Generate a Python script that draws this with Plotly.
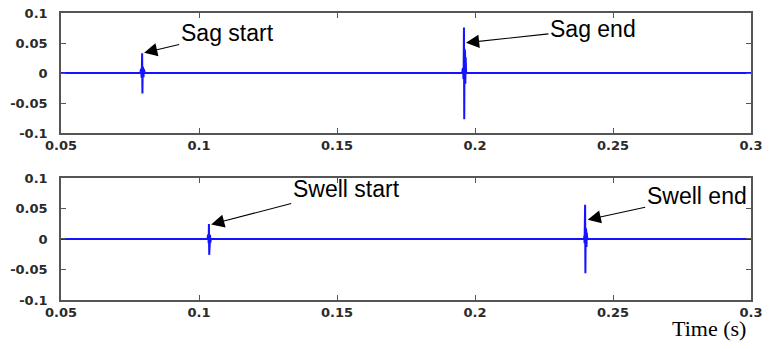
import plotly.graph_objects as go
from plotly.subplots import make_subplots

# Detail coefficients around the sag disturbance (time in s)
sag_t = [0.05,
         0.0788, 0.0789, 0.0790, 0.0791, 0.0792, 0.0793, 0.0794, 0.0795, 0.0796, 0.0797,
         0.0798, 0.0799, 0.0800, 0.0801, 0.0802, 0.0803,
         0.1954, 0.1955, 0.1956, 0.1957, 0.1958, 0.1959, 0.1960, 0.1961, 0.1962, 0.1963,
         0.1964, 0.1965, 0.1966, 0.1967, 0.1968,
         0.3]
sag_v = [0.0,
         0.0, 0.005, -0.006, 0.007, -0.008, 0.006, 0.033, -0.034, 0.010, -0.009,
         0.008, -0.007, 0.006, -0.005, 0.003, 0.0,
         0.0, 0.006, -0.007, 0.008, -0.010, 0.012, 0.076, -0.077, 0.040, -0.023,
         0.035, -0.018, 0.026, -0.008, 0.0,
         0.3 * 0]

# Detail coefficients around the swell disturbance (time in s)
swell_t = [0.05,
           0.1031, 0.1032, 0.1033, 0.1034, 0.1035, 0.1036, 0.1037, 0.1038, 0.1039,
           0.1040, 0.1041, 0.1042, 0.1043,
           0.2395, 0.2396, 0.2397, 0.2398, 0.2399, 0.2400, 0.2401, 0.2402, 0.2403,
           0.2404, 0.2405, 0.2406, 0.2407,
           0.3]
swell_v = [0.0,
           0.0, 0.005, -0.006, 0.007, -0.007, 0.0246, -0.026, 0.018, -0.008,
           0.007, -0.006, 0.004, 0.0,
           0.0, 0.005, -0.007, 0.008, 0.056, -0.056, 0.018, -0.015, 0.014,
           -0.013, 0.010, -0.006, 0.0,
           0.0]

x_ticks = [0.05, 0.1, 0.15, 0.2, 0.25, 0.3]
x_labels = ["0.05", "0.1", "0.15", "0.2", "0.25", "0.3"]
y_ticks = [0.1, 0.05, 0.0, -0.05, -0.1]
y_labels = ["0.1", "0.05", "0", "-0.05", "-0.1"]

# Event markers: (label, time, value the arrow points at, text offset px)
sag_events = [("Sag start", 0.0794, 0.033, 85, -20),
              ("Sag end", 0.1960, 0.050, 129, -14)]
swell_events = [("Swell start", 0.1037, 0.023, 137, -36),
                ("Swell end", 0.2401, 0.031, 111, -24)]

LINE = "#1414ff"
FRAME = "#555555"

fig = make_subplots(rows=2, cols=1, vertical_spacing=0.0)

fig.add_trace(go.Scatter(x=sag_t, y=sag_v, mode="lines",
                         line=dict(color=LINE, width=2), showlegend=False),
              row=1, col=1)
fig.add_trace(go.Scatter(x=swell_t, y=swell_v, mode="lines",
                         line=dict(color=LINE, width=2), showlegend=False),
              row=2, col=1)

tick_font = dict(family="DejaVu Sans", size=13, color="#2a2a2a", weight="bold")

for r in (1, 2):
    fig.update_xaxes(range=[0.05, 0.3], tickvals=x_ticks, ticktext=x_labels,
                     ticks="inside", ticklen=5, tickcolor=FRAME, mirror="ticks",
                     showline=True, linecolor=FRAME, linewidth=1.5,
                     showgrid=False, zeroline=False, tickfont=tick_font,
                     automargin=False,
                     row=r, col=1)
    fig.update_yaxes(range=[-0.1, 0.1], tickvals=y_ticks, ticktext=y_labels,
                     ticks="inside", ticklen=5, tickcolor=FRAME, mirror="ticks",
                     showline=True, linecolor=FRAME, linewidth=1.5,
                     showgrid=False, zeroline=False, tickfont=tick_font,
                     ticklabelstandoff=9, automargin=False,
                     row=r, col=1)

fig.update_layout(
    xaxis=dict(domain=[0, 1]),
    yaxis=dict(domain=[0.5819, 1.0]),
    yaxis2=dict(domain=[0.0, 0.4251]),
)

ann_font = dict(family="Liberation Sans", size=23, color="black")
for events, xr, yr in ((sag_events, "x", "y"), (swell_events, "x2", "y2")):
    for text, t, v, ax, ay in events:
        fig.add_annotation(x=t, y=v, xref=xr, yref=yr, text=text,
                           showarrow=True, ax=ax, ay=ay,
                           arrowhead=2, arrowsize=2.4, arrowwidth=1.1,
                           arrowcolor="black", standoff=2,
                           font=ann_font)

fig.add_annotation(x=0.9957, y=-0.0976, xref="paper", yref="paper",
                   xanchor="right", yanchor="middle", showarrow=False,
                   text="Time (s)",
                   font=dict(family="Liberation Serif", size=22, color="black"))

fig.update_layout(
    width=765, height=344,
    margin=dict(l=61, r=14, t=13, b=44, autoexpand=False),
    paper_bgcolor="white", plot_bgcolor="white",
)

fig.write_html("out.html")
